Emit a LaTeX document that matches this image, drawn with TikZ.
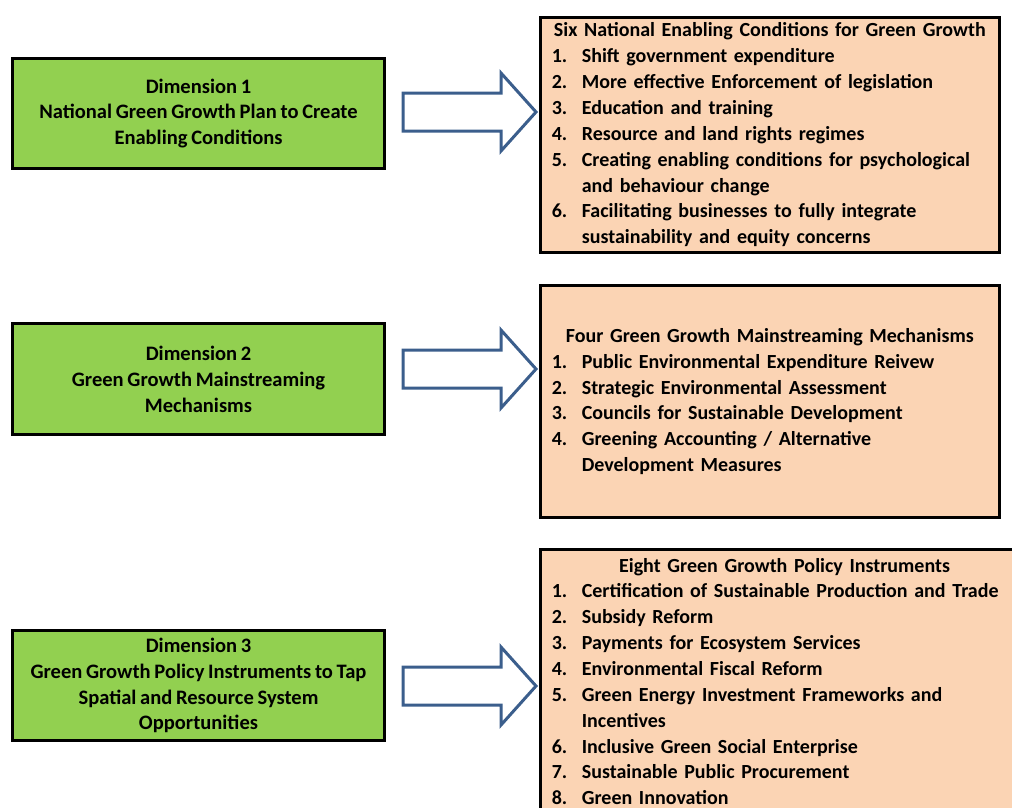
\documentclass[tikz,border=0pt]{standalone}
\usepackage{fontspec}
\setmainfont{Carlito}[WordSpace=0.8]
\definecolor{dimgreen}{HTML}{92D050}
\definecolor{listpeach}{HTML}{FBD4B4}
\definecolor{arrowblue}{HTML}{3B5E8C}
\newcommand{\gitem}[2]{\par\hangindent=22.5pt\hangafter=1\noindent\makebox[22.5pt][l]{#1}#2\par}
\newcommand{\gtitle}[1]{\noindent\makebox[\linewidth]{#1}\par}
\newcommand{\gbreak}{\hfil\break}
\begin{document}
\begin{tikzpicture}[x=0.75pt,y=-0.75pt,
    every node/.style={font=\bfseries\fontsize{15.4}{19.4}\selectfont},
    dimbox/.style={draw=black,line width=2.25pt,fill=dimgreen,minimum width=279pt,
      minimum height=83pt,align=center,inner sep=0pt},
    listbox/.style={draw=black,line width=2.25pt,fill=listpeach,anchor=north west,
      inner xsep=8.5pt,inner ysep=0pt,font=\bfseries\fontsize{15}{19.4}\selectfont},
    blockarrow/.style={draw=arrowblue,line width=2.25pt,fill=white,line join=miter}]
    \clip (0,0) rectangle (1012,807);
    % Dimensionen
    \node[dimbox] (dimA) at (198.5,113.5) {Dimension 1\\National Green Growth Plan to Create\\Enabling Conditions};
    \node[dimbox] (dimB) at (198.5,379) {Dimension 2\\Green Growth Mainstreaming\\Mechanisms};
    \node[dimbox] (dimC) at (198.5,685.5) {Dimension 3\\Green Growth Policy Instruments to Tap\\Spatial and Resource System\\Opportunities};
    % Listen
    \node[listbox,text width=327pt,minimum height=176pt] (listA) at (539,16) {\raggedright\hyphenpenalty=10000
      \gtitle{Six National Enabling Conditions for Green Growth}
      \gitem{1.}{Shift government expenditure}
      \gitem{2.}{More effective Enforcement of legislation}
      \gitem{3.}{Education and training}
      \gitem{4.}{Resource and land rights regimes}
      \gitem{5.}{Creating enabling conditions for psychological\gbreak and behaviour change}
      \gitem{6.}{Facilitating businesses to fully integrate\gbreak sustainability and equity concerns}};
    \node[listbox,text width=327pt,minimum height=174pt] (listB) at (539,284) {\raggedright\hyphenpenalty=10000
      \gtitle{Four Green Growth Mainstreaming Mechanisms}
      \gitem{1.}{Public Environmental Expenditure Reivew}
      \gitem{2.}{Strategic Environmental Assessment}
      \gitem{3.}{Councils for Sustainable Development}
      \gitem{4.}{Greening Accounting / Alternative\gbreak Development Measures}};
    \node[listbox,text width=349pt,minimum height=198pt] (listC) at (539,548) {\raggedright\hyphenpenalty=10000
      \gtitle{Eight Green Growth Policy Instruments}
      \gitem{1.}{Certification of Sustainable Production and Trade}
      \gitem{2.}{Subsidy Reform}
      \gitem{3.}{Payments for Ecosystem Services}
      \gitem{4.}{Environmental Fiscal Reform}
      \gitem{5.}{Green Energy Investment Frameworks and\gbreak Incentives}
      \gitem{6.}{Inclusive Green Social Enterprise}
      \gitem{7.}{Sustainable Public Procurement}
      \gitem{8.}{Green Innovation}};
    % Blockpfeile
    \foreach \ay in {112,369,686}{
      \draw[blockarrow] (403,\ay) ++(0,-19) -- ++(98,0) -- ++(0,-20) -- ++(35,39)
        -- ++(-35,39) -- ++(0,-20) -- ++(-98,0) -- cycle;
    }
\end{tikzpicture}
\end{document}
